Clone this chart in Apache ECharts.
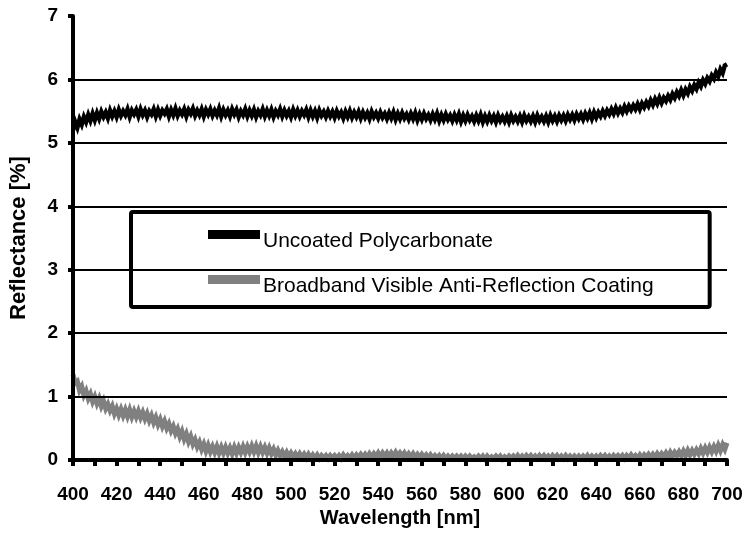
<!DOCTYPE html>
<html>
<head>
<meta charset="utf-8">
<script src="https://cdn.jsdelivr.net/npm/echarts@6/dist/echarts.min.js"></script>
<style>
  html, body { margin: 0; padding: 0; background: #fff; }
  #chart { width: 749px; height: 547px; }
</style>
</head>
<body>
<div id="chart"></div>
<script>
// Wavelength sampling of both spectra (nm)
const WL_START = 400;
const WL_STEP = 1;

// Y axis tick labels
const yTicks = [0, 1, 2, 3, 4, 5, 6, 7];

// Series names
const nameUncoated = 'Uncoated Polycarbonate';
const nameCoated = 'Broadband Visible Anti-Reflection Coating';

// Reflectance [%] of uncoated polycarbonate, 400–700 nm every 1 nm (one row per 10 nm)
const uncoated = [
  5.20, 5.33, 5.24, 5.37, 5.29, 5.41, 5.33, 5.44, 5.35, 5.46,
  5.36, 5.47, 5.38, 5.49, 5.41, 5.48, 5.39, 5.51, 5.42, 5.50,
  5.41, 5.52, 5.43, 5.50, 5.44, 5.53, 5.41, 5.51, 5.45, 5.52,
  5.42, 5.53, 5.44, 5.51, 5.41, 5.50, 5.45, 5.53, 5.42, 5.52,
  5.43, 5.51, 5.46, 5.53, 5.42, 5.52, 5.44, 5.54, 5.43, 5.51,
  5.45, 5.53, 5.42, 5.52, 5.46, 5.54, 5.43, 5.51, 5.44, 5.53,
  5.42, 5.52, 5.45, 5.53, 5.43, 5.51, 5.44, 5.54, 5.42, 5.52,
  5.44, 5.51, 5.42, 5.53, 5.45, 5.52, 5.41, 5.50, 5.44, 5.53,
  5.42, 5.51, 5.43, 5.52, 5.41, 5.50, 5.44, 5.53, 5.42, 5.51,
  5.43, 5.52, 5.41, 5.50, 5.44, 5.53, 5.42, 5.51, 5.43, 5.50,
  5.41, 5.52, 5.43, 5.51, 5.42, 5.50, 5.44, 5.52, 5.41, 5.51,
  5.42, 5.50, 5.40, 5.51, 5.43, 5.49, 5.41, 5.50, 5.42, 5.49,
  5.40, 5.50, 5.42, 5.48, 5.39, 5.49, 5.41, 5.50, 5.40, 5.48,
  5.41, 5.49, 5.39, 5.48, 5.40, 5.47, 5.38, 5.49, 5.41, 5.47,
  5.39, 5.48, 5.40, 5.46, 5.38, 5.47, 5.39, 5.48, 5.37, 5.46,
  5.38, 5.47, 5.39, 5.45, 5.37, 5.46, 5.38, 5.47, 5.36, 5.45,
  5.37, 5.46, 5.38, 5.44, 5.36, 5.45, 5.37, 5.46, 5.35, 5.44,
  5.36, 5.45, 5.37, 5.43, 5.35, 5.44, 5.36, 5.45, 5.34, 5.43,
  5.35, 5.44, 5.36, 5.42, 5.34, 5.43, 5.35, 5.44, 5.33, 5.42,
  5.34, 5.43, 5.35, 5.42, 5.33, 5.43, 5.35, 5.41, 5.34, 5.42,
  5.33, 5.43, 5.35, 5.41, 5.34, 5.42, 5.33, 5.43, 5.35, 5.41,
  5.34, 5.42, 5.33, 5.43, 5.35, 5.41, 5.34, 5.42, 5.33, 5.43,
  5.35, 5.42, 5.34, 5.43, 5.36, 5.43, 5.35, 5.44, 5.37, 5.44,
  5.36, 5.45, 5.38, 5.45, 5.37, 5.46, 5.39, 5.47, 5.38, 5.48,
  5.40, 5.48, 5.42, 5.50, 5.43, 5.51, 5.45, 5.53, 5.46, 5.55,
  5.47, 5.54, 5.48, 5.57, 5.50, 5.58, 5.52, 5.59, 5.53, 5.61,
  5.53, 5.62, 5.56, 5.64, 5.58, 5.67, 5.60, 5.69, 5.62, 5.71,
  5.63, 5.71, 5.66, 5.74, 5.68, 5.77, 5.71, 5.80, 5.74, 5.83,
  5.75, 5.84, 5.78, 5.88, 5.82, 5.91, 5.85, 5.95, 5.89, 5.99,
  5.93, 6.02, 5.97, 6.06, 6.01, 6.11, 6.05, 6.16, 6.10, 6.22,
  6.24
];

// Reflectance [%] with the broadband visible AR coating, 400–700 nm every 1 nm (one row per 10 nm)
const coated = [
  1.35, 1.21, 1.24, 1.10, 1.16, 1.02, 1.09, 0.97, 1.04, 0.92,
  1.00, 0.89, 0.97, 0.85, 0.93, 0.81, 0.88, 0.78, 0.85, 0.73,
  0.81, 0.71, 0.80, 0.70, 0.79, 0.69, 0.79, 0.68, 0.77, 0.68,
  0.77, 0.67, 0.75, 0.65, 0.73, 0.62, 0.70, 0.59, 0.67, 0.56,
  0.64, 0.53, 0.61, 0.50, 0.57, 0.46, 0.53, 0.42, 0.49, 0.37,
  0.45, 0.33, 0.41, 0.29, 0.37, 0.25, 0.32, 0.21, 0.28, 0.17,
  0.25, 0.14, 0.23, 0.13, 0.21, 0.12, 0.21, 0.11, 0.20, 0.11,
  0.20, 0.11, 0.19, 0.10, 0.20, 0.11, 0.20, 0.12, 0.21, 0.12,
  0.21, 0.13, 0.22, 0.13, 0.22, 0.12, 0.21, 0.12, 0.20, 0.11,
  0.19, 0.10, 0.17, 0.08, 0.15, 0.07, 0.13, 0.06, 0.12, 0.05,
  0.11, 0.05, 0.10, 0.04, 0.10, 0.04, 0.09, 0.03, 0.09, 0.03,
  0.08, 0.03, 0.08, 0.02, 0.07, 0.03, 0.07, 0.02, 0.07, 0.03,
  0.07, 0.03, 0.07, 0.02, 0.08, 0.03, 0.07, 0.03, 0.08, 0.03,
  0.08, 0.04, 0.09, 0.04, 0.09, 0.04, 0.10, 0.05, 0.10, 0.05,
  0.11, 0.05, 0.11, 0.06, 0.11, 0.05, 0.11, 0.06, 0.12, 0.06,
  0.11, 0.06, 0.11, 0.05, 0.10, 0.05, 0.10, 0.04, 0.09, 0.04,
  0.09, 0.04, 0.08, 0.03, 0.08, 0.03, 0.07, 0.03, 0.07, 0.02,
  0.07, 0.02, 0.06, 0.02, 0.06, 0.02, 0.06, 0.02, 0.06, 0.02,
  0.06, 0.02, 0.06, 0.02, 0.05, 0.02, 0.06, 0.02, 0.06, 0.01,
  0.06, 0.02, 0.05, 0.02, 0.06, 0.02, 0.06, 0.01, 0.05, 0.02,
  0.06, 0.02, 0.06, 0.02, 0.07, 0.02, 0.06, 0.02, 0.07, 0.03,
  0.07, 0.02, 0.06, 0.02, 0.07, 0.03, 0.07, 0.02, 0.06, 0.02,
  0.07, 0.03, 0.07, 0.02, 0.06, 0.02, 0.07, 0.02, 0.06, 0.02,
  0.06, 0.02, 0.06, 0.02, 0.06, 0.02, 0.07, 0.02, 0.06, 0.02,
  0.06, 0.02, 0.07, 0.03, 0.07, 0.02, 0.06, 0.02, 0.07, 0.03,
  0.07, 0.03, 0.07, 0.02, 0.07, 0.03, 0.08, 0.03, 0.07, 0.03,
  0.08, 0.03, 0.08, 0.04, 0.09, 0.04, 0.09, 0.04, 0.10, 0.05,
  0.10, 0.05, 0.11, 0.05, 0.12, 0.06, 0.12, 0.07, 0.13, 0.07,
  0.14, 0.07, 0.15, 0.08, 0.15, 0.09, 0.16, 0.10, 0.18, 0.11,
  0.19, 0.12, 0.20, 0.13, 0.21, 0.14, 0.23, 0.15, 0.24, 0.17,
  0.27
];

function pairs(values) {
  return values.map((v, i) => [WL_START + i * WL_STEP, v]);
}

const FONT = '"Liberation Sans", Arial, sans-serif';

const chart = echarts.init(document.getElementById('chart'), null, { renderer: 'canvas' });

chart.setOption({
  animation: false,
  backgroundColor: '#ffffff',
  grid: { left: 72, right: 22, top: 16, bottom: 87, containLabel: false },
  legend: {
    orient: 'vertical',
    left: 131,
    top: 212,
    padding: [5, 56, 10, 77],
    itemGap: 10,
    itemWidth: 52,
    itemHeight: 9,
    icon: 'rect',
    backgroundColor: '#ffffff',
    borderColor: '#000000',
    borderWidth: 4,
    borderRadius: 2,
    formatter: name => '{t|' + name + '}',
    textStyle: {
      fontFamily: FONT,
      fontSize: 21,
      color: '#000',
      rich: {
        t: { fontFamily: FONT, fontSize: 21, lineHeight: 24, color: '#000', padding: [14, 0, 0, -2] }
      }
    },
    data: [nameUncoated, nameCoated]
  },
  xAxis: {
    type: 'value',
    min: 400,
    max: 700,
    interval: 10,
    z: 5,
    axisLine: { lineStyle: { color: '#000', width: 4 } },
    axisTick: { show: true, inside: false, length: 6, lineStyle: { color: '#000', width: 4 } },
    splitLine: { show: false },
    axisLabel: {
      margin: 25,
      fontFamily: FONT,
      fontWeight: 'bold',
      fontSize: 19,
      color: '#000',
      formatter: v => (v % 20 === 0 ? String(v) : '')
    },
    name: 'Wavelength [nm]',
    nameLocation: 'middle',
    nameGap: 41,
    nameTextStyle: { fontFamily: FONT, fontWeight: 'bold', fontSize: 20, color: '#000' }
  },
  yAxis: {
    type: 'value',
    min: yTicks[0],
    max: yTicks[yTicks.length - 1],
    interval: 1,
    z: 5,
    axisLine: { show: true, lineStyle: { color: '#000', width: 4 } },
    axisTick: { show: true, inside: false, length: 5, lineStyle: { color: '#000', width: 4 } },
    splitLine: { show: true, showMinLine: false, showMaxLine: false, lineStyle: { color: '#000', width: 2 } },
    axisLabel: {
      margin: 15,
      fontFamily: FONT,
      fontWeight: 'bold',
      fontSize: 19,
      color: '#000'
    },
    name: 'Reflectance [%]',
    nameLocation: 'middle',
    nameGap: 43,
    nameRotate: 90,
    nameTextStyle: { fontFamily: FONT, fontWeight: 'bold', fontSize: 22, color: '#000' }
  },
  series: [
    {
      name: nameUncoated,
      type: 'line',
      data: pairs(uncoated),
      showSymbol: false,
      symbol: 'none',
      sampling: null,
      color: '#000000',
      lineStyle: { color: '#000000', width: 4.5, join: 'miter' },
      z: 3
    },
    {
      name: nameCoated,
      type: 'line',
      data: pairs(coated),
      showSymbol: false,
      symbol: 'none',
      sampling: null,
      color: '#808080',
      lineStyle: { color: '#808080', width: 5, join: 'miter' },
      z: 2
    }
  ]
});
</script>
</body>
</html>
